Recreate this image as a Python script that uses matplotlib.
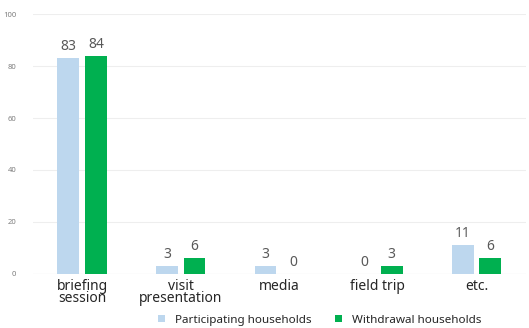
import matplotlib
matplotlib.use("Agg")
import matplotlib.pyplot as plt
import numpy as np

categories = ["briefing\nsession", "visit\npresentation", "media", "field trip", "etc."]
participating = [83, 3, 3, 0, 11]
withdrawal = [84, 6, 0, 3, 6]
series_names = ["Participating households", "Withdrawal households"]
yticks = [0, 20, 40, 60, 80, 100]

plt.rcParams['font.family'] = ['Noto Sans', 'DejaVu Sans']

fig = plt.figure(figsize=(5.29, 3.28), dpi=100)
ax = fig.add_axes([0.062, 0.165, 0.932, 0.792])

x = np.arange(len(categories))
w = 0.22
off = 0.14
c1 = "#bdd7ee"
c2 = "#00b050"
b1 = ax.bar(x - off, participating, w, color=c1, label=series_names[0], zorder=3)
b2 = ax.bar(x + off, withdrawal, w, color=c2, label=series_names[1], zorder=3)

for xi, v in zip(x - off, participating):
    ax.text(xi, v + 1.5, str(v), ha="center", va="bottom", fontsize=10, color="#595959")
for xi, v in zip(x + off, withdrawal):
    ax.text(xi, v + 1.5, str(v), ha="center", va="bottom", fontsize=10, color="#595959")

ax.set_xlim(-0.5, 4.5)
ax.set_ylim(0, 100)
ax.set_yticks(yticks)
ax.set_yticklabels([str(t) for t in yticks], fontsize=5.5, color="#7f7f7f")
ax.set_xticks(x)
ax.set_xticklabels(categories, fontsize=10, color="#262626", linespacing=0.72)
ax.tick_params(axis="both", length=0)
ax.tick_params(axis="y", pad=12)
ax.tick_params(axis="x", pad=4)
ax.grid(axis="y", color="#eeeeee", linewidth=0.8, zorder=0)
for s in ax.spines.values():
    s.set_visible(False)
ax.axhline(0, color="#e0e0e0", linewidth=0.8, zorder=2)

fig.legend(handles=[b1, b2], labels=series_names, loc="lower center", bbox_to_anchor=(0.605, -0.025),
           ncol=2, frameon=False, fontsize=8.4, handlelength=0.55, handleheight=0.55,
           columnspacing=2.0, handletextpad=0.9, labelcolor="#262626")

fig.savefig("out.png", dpi=100)
